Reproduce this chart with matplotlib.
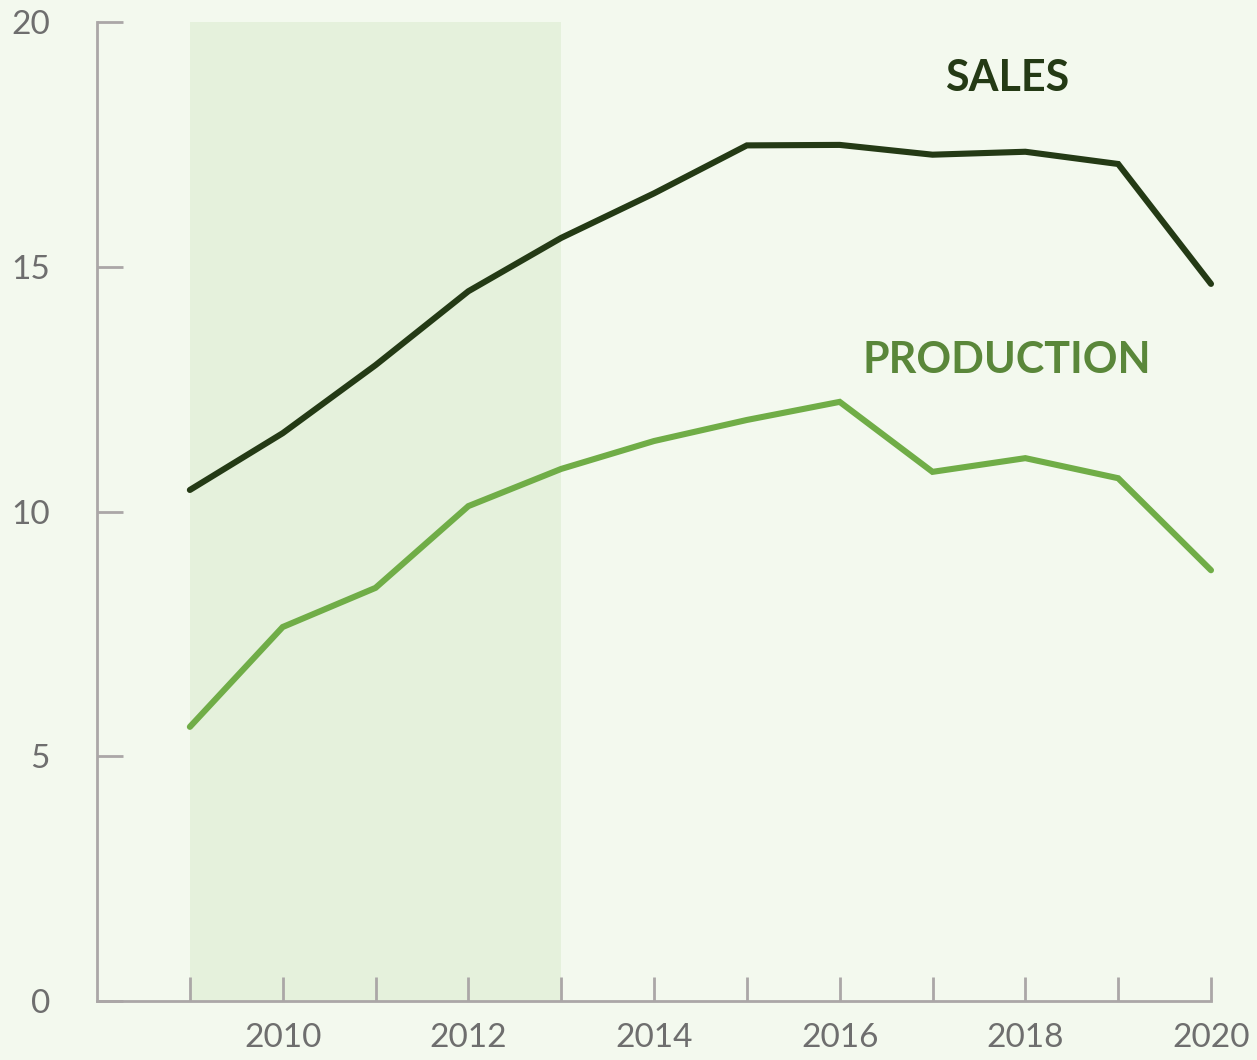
import matplotlib

matplotlib.use("Agg")

import matplotlib.pyplot as plt

years = [2009, 2010, 2011, 2012, 2013, 2014, 2015, 2016, 2017, 2018, 2019, 2020]
sales = [10.44, 11.6, 12.99, 14.5, 15.59, 16.5, 17.48, 17.49, 17.29, 17.35, 17.1, 14.65]
production = [5.6, 7.64, 8.44, 10.11, 10.87, 11.44, 11.87, 12.24, 10.81, 11.09, 10.68, 8.8]

shade_span = (2009, 2013)
x_label_years = [2010, 2012, 2014, 2016, 2018, 2020]
y_ticks = [0, 5, 10, 15, 20]

BG = "#f3f9ee"
SHADE = "#e5f1dc"
DARK = "#243a15"
LIGHT = "#70ad47"
LABEL_GREEN = "#5a873a"
AXIS = "#aba7a7"
TICKTXT = "#6e6e6e"

plt.rcParams["font.family"] = ["Lato", "DejaVu Sans"]

fig = plt.figure(figsize=(12.57, 10.6), dpi=100, facecolor=BG)
ax = fig.add_axes([0.0772, 0.0557, 0.8862, 0.9235], facecolor=BG)

ax.axvspan(*shade_span, color=SHADE, lw=0, zorder=0)
ax.plot(years, sales, color=DARK, lw=4.4, solid_capstyle="round",
        solid_joinstyle="miter", zorder=3, clip_on=False)
ax.plot(years, production, color=LIGHT, lw=4.4, solid_capstyle="round",
        solid_joinstyle="miter", zorder=3, clip_on=False)

ax.text(2017.8, 18.86, "SALES", color=DARK, fontsize=31, fontweight="bold",
        ha="center", va="center")
ax.text(2017.8, 13.1, "PRODUCTION", color=LABEL_GREEN, fontsize=31,
        fontweight="bold", ha="center", va="center")

ax.set_xlim(2008, 2020)
ax.set_ylim(0, 20)
ax.set_xticks(years)
ax.set_xticklabels([str(y) if y in x_label_years else "" for y in years])
ax.set_yticks(y_ticks)

for side in ("top", "right"):
    ax.spines[side].set_visible(False)
for side in ("left", "bottom"):
    ax.spines[side].set_color(AXIS)
    ax.spines[side].set_linewidth(2)

ax.tick_params(axis="x", direction="in", length=17, width=2, color=AXIS,
               labelsize=24, labelcolor=TICKTXT, pad=16)
ax.tick_params(axis="y", direction="in", length=19, width=2, color=AXIS,
               labelsize=24, labelcolor=TICKTXT, pad=34)

fig.savefig("out.png", dpi=100, facecolor=BG)
